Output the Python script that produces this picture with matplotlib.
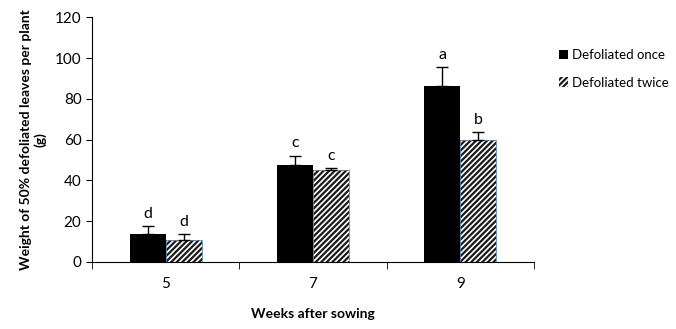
import numpy as np
import matplotlib
matplotlib.use('Agg')
from matplotlib import pyplot as plt

plt.rcParams['font.family'] = ['Lato', 'DejaVu Sans']
plt.rcParams['hatch.linewidth'] = 1.6

#data
weeks = ['5', '7', '9']
once = [13.8, 47.8, 86.3]
once_err = [3.9, 4.4, 9.2]
twice = [10.8, 44.9, 59.6]
twice_err = [2.8, 1.0, 4.1]
once_letters = ['d', 'c', 'a']
twice_letters = ['d', 'c', 'b']

fig = plt.figure(figsize=(6.76, 3.29), dpi=100)
ax = fig.add_axes([0.136, 0.204, 0.654, 0.743])

x = np.arange(len(weeks))
w = 0.245
ax.bar(x - w/2, once, w, color='black', label='Defoliated once')
ax.bar(x + w/2, twice, w, color='white', edgecolor='#1a1a1a', hatch='//////',
       linewidth=0, label='Defoliated twice')
#thin bluish outline on the hatched bars
ax.bar(x + w/2, twice, w, fill=False, edgecolor='#5b86ad', linewidth=0.6)
ax.errorbar(x - w/2, once, yerr=[np.zeros(3), once_err], fmt='none',
            ecolor='black', elinewidth=1, capsize=4)
ax.errorbar(x + w/2, twice, yerr=[np.zeros(3), twice_err], fmt='none',
            ecolor='black', elinewidth=1, capsize=4)

#letters above error bars
for i in range(3):
    ax.text(x[i] - w/2, once[i] + once_err[i] + 2.5, once_letters[i],
            ha='center', va='bottom', fontsize=11.5)
    ax.text(x[i] + w/2, twice[i] + twice_err[i] + 2.5, twice_letters[i],
            ha='center', va='bottom', fontsize=11.5)

ax.set_xlim(-0.5, 2.5)
ax.set_ylim(0, 120)
ax.set_yticks(range(0, 121, 20))
ax.set_xticks(x)
ax.set_xticklabels(weeks, fontsize=11)
ax.set_xticks([-0.5, 0.5, 1.5, 2.5], minor=True)
ax.tick_params(axis='x', which='major', length=0, pad=11)
ax.tick_params(axis='x', which='minor', length=5, direction='out')
ax.tick_params(axis='y', length=4, labelsize=11)
ax.spines['top'].set_visible(False)
ax.spines['right'].set_visible(False)

ax.set_ylabel('Weight of 50% defoliated leaves per plant\n(g)', fontsize=10,
              fontweight='bold', labelpad=6)
ax.set_xlabel('Weeks after sowing', fontsize=10, fontweight='bold', labelpad=12)

ax.legend(loc='upper left', bbox_to_anchor=(1.03, 0.92), frameon=False,
          fontsize=9.5, handlelength=0.7, handleheight=0.7, handletextpad=0.3,
          labelspacing=1.2)

plt.savefig('out.png', dpi=100)
